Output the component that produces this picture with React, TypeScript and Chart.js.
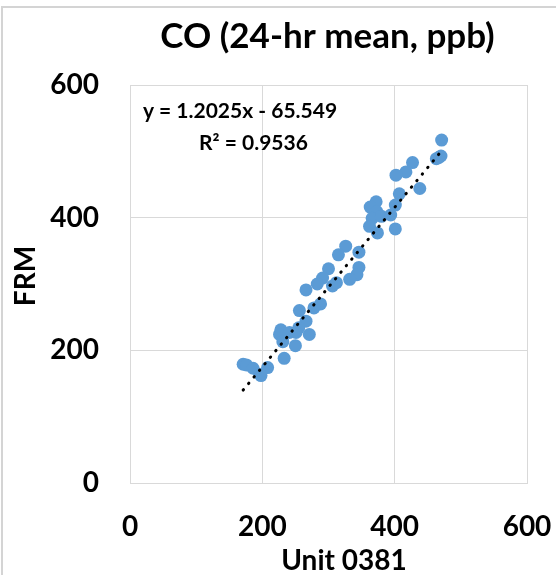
import React, { useEffect, useRef } from "react";
import { Chart, registerables } from "chart.js";

Chart.register(...registerables);

// Unit 0381 (x) vs FRM (y), CO 24-hr mean, ppb
const unitX = [
  471, 467, 463, 470, 427, 417, 402, 438, 407, 401, 372, 363, 373, 366, 380, 394, 401, 362, 374,
  326, 315, 346, 300, 346, 343, 332, 291, 283, 266, 306, 312, 288, 278, 256, 266, 255, 228, 226,
  241, 251, 271, 231, 250, 233, 171, 176, 186, 196, 208, 198,
];
const frmY = [
  517, 491, 489, 493, 483, 469, 464, 444, 436, 419, 424, 416, 409, 399, 402, 404, 383, 387, 377,
  357, 344, 348, 323, 325, 314, 307, 309, 300, 291, 297, 302, 270, 264, 260, 244, 234, 231, 224,
  227, 227, 224, 213, 207, 188, 179, 178, 173, 164, 174, 162,
];

const trendSlope = 1.2025;
const trendIntercept = -65.549;
const equationLabel = "y = 1.2025x - 65.549";
const r2Label = "R² = 0.9536";
const chartTitle = "CO (24-hr mean, ppb)";
const xAxisTitle = "Unit 0381";
const yAxisTitle = "FRM";
const axisMin = 0;
const axisMax = 600;
const axisStep = 200;

const FONT = "Lato, 'Open Sans', sans-serif";
const GRID = "#d9d9d9";

export default function App() {
  const canvasRef = useRef<HTMLCanvasElement | null>(null);

  useEffect(() => {
    const canvas = canvasRef.current;
    if (!canvas) return;

    const xMin = Math.min(...unitX);
    const xMax = Math.max(...unitX);
    const trend = [
      { x: xMin, y: trendSlope * xMin + trendIntercept },
      { x: xMax, y: trendSlope * xMax + trendIntercept },
    ];

    const decor = {
      id: "decor",
      beforeDraw(chart: any) {
        const ctx = chart.ctx;
        ctx.save();
        ctx.fillStyle = "#ffffff";
        ctx.fillRect(0, 0, chart.width, chart.height);
        ctx.strokeStyle = "#d4d4d4";
        ctx.lineWidth = 2;
        ctx.strokeRect(2, 7, 700, 700);
        ctx.restore();
      },
      afterDraw(chart: any) {
        const ctx = chart.ctx;
        ctx.save();
        ctx.fillStyle = "#000000";
        ctx.textAlign = "center";
        ctx.textBaseline = "alphabetic";
        // title
        ctx.font = `bold 35px ${FONT}`;
        ctx.fillText(chartTitle, 327.5, 48);
        // x-axis title
        ctx.font = `bold 28px ${FONT}`;
        ctx.fillText(xAxisTitle, 344, 570);
        // y-axis title
        ctx.save();
        ctx.translate(35, 276);
        ctx.rotate(-Math.PI / 2);
        ctx.fillText(yAxisTitle, 0, 0);
        ctx.restore();
        // trendline label
        ctx.font = `bold 21px ${FONT}`;
        ctx.fillText(equationLabel, 240, 118);
        ctx.fillText(r2Label, 253.5, 150);
        ctx.restore();
      },
    };

    const chart = new Chart(canvas, {
      type: "scatter",
      data: {
        datasets: [
          {
            type: "line",
            label: "Linear trend",
            data: trend,
            borderColor: "#000000",
            borderWidth: 3,
            borderDash: [0.5, 8],
            borderCapStyle: "round",
            pointRadius: 0,
            fill: false,
          } as any,
          {
            label: "FRM vs Unit 0381",
            data: unitX.map((x, i) => ({ x, y: frmY[i] })),
            backgroundColor: "#5b9bd5",
            borderWidth: 0,
            pointRadius: 6.5,
            pointHoverRadius: 6.5,
          },
        ],
      },
      options: {
        responsive: false,
        animation: false,
        events: [],
        layout: { padding: { left: 0, top: 85, right: 29, bottom: 0 } },
        plugins: {
          legend: { display: false },
          title: { display: false },
          tooltip: { enabled: false },
        },
        scales: {
          x: {
            type: "linear",
            min: axisMin,
            max: axisMax,
            ticks: {
              stepSize: axisStep,
              padding: 27,
              color: "#000000",
              font: { family: FONT, size: 28, weight: "bold" },
              maxRotation: 0,
            },
            grid: { color: GRID, lineWidth: 1, drawTicks: false },
            border: { display: true, color: GRID, width: 1 },
            afterFit: (s: any) => {
              s.height = 92;
              s.paddingLeft = 0;
              s.paddingRight = 0;
            },
          },
          y: {
            type: "linear",
            min: axisMin,
            max: axisMax,
            ticks: {
              stepSize: axisStep,
              padding: 31,
              color: "#000000",
              font: { family: FONT, size: 28, weight: "bold" },
            },
            grid: { color: GRID, lineWidth: 1, drawTicks: false },
            border: { display: true, color: GRID, width: 1 },
            afterFit: (s: any) => {
              s.width = 130;
              s.paddingTop = 0;
              s.paddingBottom = 0;
            },
          },
        },
      },
      plugins: [decor],
    });

    return () => chart.destroy();
  }, []);

  return (
    <div style={{ position: "absolute", left: 0, top: 0, width: 556, height: 575 }}>
      <canvas ref={canvasRef} width={556} height={575} style={{ display: "block" }} />
    </div>
  );
}
